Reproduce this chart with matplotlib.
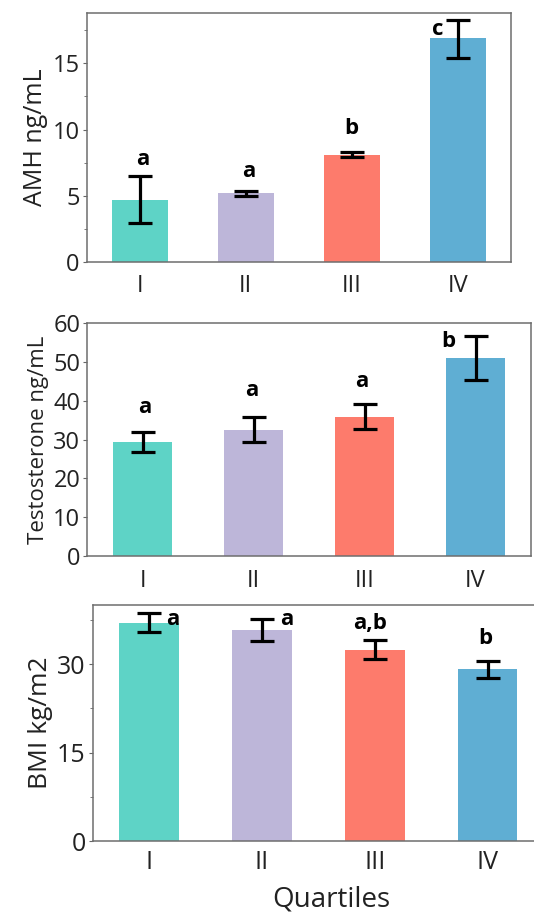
import numpy as np
import matplotlib
matplotlib.use("Agg")
import matplotlib.pyplot as plt
from matplotlib.ticker import MultipleLocator

plt.rcParams['font.family'] = ['Open Sans', 'DejaVu Sans']

quartiles = ["I", "II", "III", "IV"]
colors = ["#5ed3c6", "#bdb6d9", "#fd7b6c", "#5faed3"]

# AMH (ng/mL): mean, lower / upper end of error bar
amh = [4.7, 5.2, 8.1, 16.9]
amh_lo = [2.9, 5.0, 7.9, 15.4]
amh_hi = [6.5, 5.35, 8.3, 18.3]
amh_letters = ["a", "a", "b", "c"]

# Testosterone (ng/mL)
testo = [29.5, 32.5, 35.9, 51.1]
testo_lo = [26.9, 29.4, 32.8, 45.5]
testo_hi = [32.1, 35.8, 39.2, 56.7]
testo_letters = ["a", "a", "a", "b"]

# BMI (kg/m2)
bmi = [37.0, 35.8, 32.4, 29.1]
bmi_lo = [35.4, 33.9, 30.8, 27.7]
bmi_hi = [38.6, 37.7, 34.1, 30.6]
bmi_letters = ["a", "a", "a,b", "b"]

fig = plt.figure(figsize=(5.34, 9.13), dpi=100)

panels = [
    # rect, values, lo, hi, letters, letter positions, ylabel, ymax, major, minor, tick size, label size, x pad
    ([0.1624, 0.7134, 0.794, 0.2721], amh, amh_lo, amh_hi, amh_letters,
     [(0.03, 7.7), (1.03, 6.8), (2.0, 10.1), (2.81, 17.6)],
     "AMH ng/mL", 18.8, 5, 2.5, 17, 18, 9),
    ([0.1635, 0.391, 0.831, 0.2549], testo, testo_lo, testo_hi, testo_letters,
     [(0.02, 38.3), (0.98, 42.6), (1.97, 44.9), (2.75, 55.2)],
     "Testosterone ng/mL", 60, 10, None, 17, 16, 9),
    ([0.1736, 0.0785, 0.845, 0.2588], bmi, bmi_lo, bmi_hi, bmi_letters,
     [(0.21, 37.5), (1.22, 37.5), (1.96, 36.9), (2.98, 34.3)],
     "BMI kg/m2", 40, 15, 7.5, 18, 19, 6),
]

for rect, vals, lo, hi, letters, pos, ylabel, ymax, major, minor, tsize, lsize, xpad in panels:
    ax = fig.add_axes(rect)
    x = np.arange(len(quartiles))
    vals = np.array(vals)
    yerr = [vals - np.array(lo), np.array(hi) - vals]
    ax.bar(x, vals, width=0.53, color=colors, zorder=2)
    ax.errorbar(x, vals, yerr=yerr, fmt="none", ecolor="black",
                elinewidth=2.3, capsize=8.5, capthick=2.3, zorder=3)
    for (lx, ly), txt in zip(pos, letters):
        ax.text(lx, ly, txt, ha="center", va="center", fontsize=16,
                fontweight="bold", color="black")
    ax.set_xlim(-0.5, 3.5)
    ax.set_ylim(0, ymax)
    ax.set_xticks(x)
    ax.set_xticklabels(quartiles)
    ax.yaxis.set_major_locator(MultipleLocator(major))
    if minor:
        ax.yaxis.set_minor_locator(MultipleLocator(minor))
    ax.tick_params(axis="both", labelsize=tsize, colors="#222222", length=3,
                   width=0.8, direction="out")
    ax.tick_params(axis="x", length=0, pad=xpad)
    ax.tick_params(axis="y", pad=2)
    ax.tick_params(axis="y", which="minor", length=2.5, width=0.6,
                   color="#666666")
    ax.tick_params(axis="y", which="major", color="#666666")
    for sp in ax.spines.values():
        sp.set_color("#6e6e6e")
        sp.set_linewidth(1.1)
    ax.set_ylabel(ylabel, fontsize=lsize, color="#222222", labelpad=3)

fig.text(0.62, 0.0, "Quartiles", ha="center", va="bottom", fontsize=20,
         color="#222222")

fig.savefig("out.png", dpi=100)
